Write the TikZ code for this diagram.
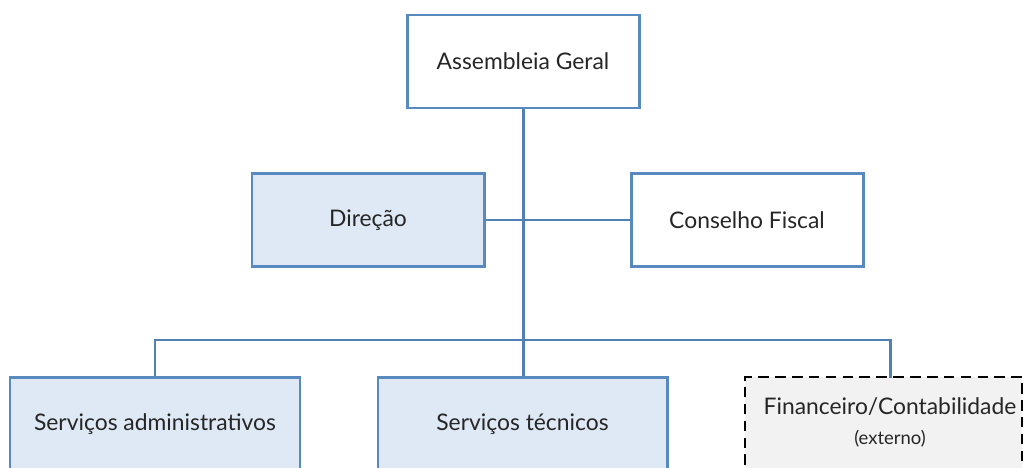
\documentclass[tikz,border=0pt]{standalone}
\usepackage{fontspec}
\setmainfont{Lato}
\usetikzlibrary{positioning}
\definecolor{orgblue}{RGB}{88, 138, 192}
\definecolor{orgline}{RGB}{80, 128, 180}
\definecolor{orgfill}{RGB}{222, 233, 245}
\definecolor{extfill}{RGB}{242, 242, 242}
\definecolor{txtgray}{RGB}{38, 38, 38}

\begin{document}
\begin{tikzpicture}[
    font=\fontsize{13}{16}\selectfont,
    text=txtgray,
    unit/.style={draw=orgblue, line width=1.7pt, fill=white, rectangle, minimum height=1.86cm, text centered},
    staff/.style={unit, fill=orgfill},
    ext/.style={draw=black, line width=1.6pt, dash pattern=on 6pt off 3.6pt, fill=extfill, rectangle, minimum height=1.88cm},
    link/.style={draw=orgline, line width=1.7pt}
]
    \clip (0, 0) rectangle (20.5, -9.36);

    \node [unit, minimum width=4.64cm] (ag) at (10.46, -1.23) {Assembleia Geral};

    \node [staff, minimum width=4.64cm] (dir) at (7.36, -4.4) {Direção};
    \node [unit, minimum width=4.64cm] (cf) at (14.94, -4.4) {Conselho Fiscal};

    \node [staff, minimum width=5.8cm] (adm) at (3.1, -8.48) {Serviços administrativos};
    \node [staff, minimum width=5.78cm] (tec) at (10.45, -8.48) {Serviços técnicos};
    \node [ext, minimum width=5.54cm] (fin) at (17.67, -8.48) {};
    \node [align=center, inner sep=0pt] (fin_txt) at (17.8, -8.45)
        {Financeiro/Contabilidade\\[1pt]{\fontsize{10.5}{13}\selectfont (externo)}};

    \coordinate (bus) at (10.46, -6.8);
    \coordinate (fin_top) at (17.8, -7.56);

    \draw [link] (ag) -- (bus);
    \draw [link] (dir) -- (cf);
    \draw [link] (adm.north) |- (bus) -| (fin_top);
    \draw [link] (bus) -- (tec.north -| bus);

\end{tikzpicture}
\end{document}
